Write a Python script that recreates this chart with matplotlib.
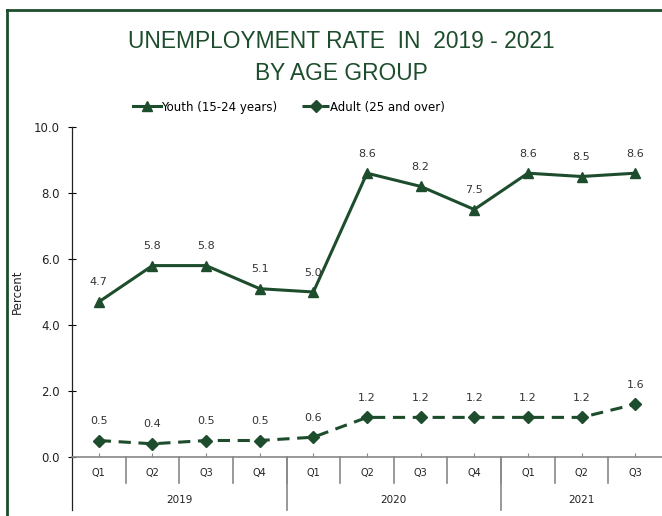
import matplotlib
matplotlib.use('Agg')
import matplotlib.pyplot as plt
from matplotlib.lines import Line2D

# Data
quarters = ['Q1', 'Q2', 'Q3', 'Q4', 'Q1', 'Q2', 'Q3', 'Q4', 'Q1', 'Q2', 'Q3']
years = ['2019', '2020', '2021']
year_quarters = [4, 4, 3]
youth = [4.7, 5.8, 5.8, 5.1, 5.0, 8.6, 8.2, 7.5, 8.6, 8.5, 8.6]
adult = [0.5, 0.4, 0.5, 0.5, 0.6, 1.2, 1.2, 1.2, 1.2, 1.2, 1.6]

green = '#1d4d2c'
small = ['DejaVu Sans']
plt.rcParams['font.family'] = ['Liberation Sans', 'DejaVu Sans']

fig = plt.figure(figsize=(6.62, 5.16), dpi=100)
ax = fig.add_axes([72 / 662, 59 / 516, 590 / 662, 330 / 516])

x = list(range(len(quarters)))
ax.plot(x, youth, color=green, lw=2.2, marker='^', ms=7, label='Youth (15-24 years)')
ax.plot(x, adult, color=green, lw=2.2, ls=(0, (4, 2.5)), marker='D', ms=6, label='Adult (25 and over)')

for xi, v in zip(x, youth):
    ax.annotate(f'{v:.1f}', (xi, v), xytext=(0, 14), textcoords='offset points',
                ha='center', va='center', fontsize=8, family=small, color='#333333')
for xi, v in zip(x, adult):
    ax.annotate(f'{v:.1f}', (xi, v), xytext=(0, 14), textcoords='offset points',
                ha='center', va='center', fontsize=8, family=small, color='#333333')

ax.set_xlim(-0.5, len(quarters) - 0.5)
ax.set_ylim(0, 10)
ax.set_yticks([0, 2, 4, 6, 8, 10])
ax.set_yticklabels([f'{t:.1f}' for t in [0, 2, 4, 6, 8, 10]], fontsize=8.5, family=small, color='#222222')
ax.tick_params(axis='y', direction='inout', length=6, width=0.8, pad=6)
ax.set_xticks(x)
ax.set_xticklabels([])
ax.tick_params(axis='x', direction='in', length=3, width=0.8, color='#888888')

for s in ['top', 'right', 'left']:
    ax.spines[s].set_visible(False)
ax.spines['bottom'].set_color('#888888')
ax.spines['bottom'].set_linewidth(1.2)

# y-axis line extended down through the category rows
ax.plot([-0.5, -0.5], [-1.6, 10], color='#222222', lw=0.9, clip_on=False)

# category labels and separators
for xi, q in zip(x, quarters):
    ax.text(xi, -0.48, q, ha='center', va='center', fontsize=7, family=small, color='#222222')
for b in range(1, len(quarters)):
    ax.plot([b - 0.5, b - 0.5], [0, -0.79], color='#888888', lw=1.2, clip_on=False)
start = 0
for yr, n in zip(years, year_quarters):
    ax.text(start + (n - 1) / 2, -1.3, yr, ha='center', va='center', fontsize=7.5, family=small,
            color='#222222')
    if start > 0:
        ax.plot([start - 0.5, start - 0.5], [0, -1.6], color='#888888', lw=1.2, clip_on=False)
    start += n

ax.set_ylabel('Percent', fontsize=8.5, family=small, color='#222222')
ax.yaxis.set_label_coords(-0.082, 0.5)

fig.text(341 / 662, 1 - 41 / 516, 'UNEMPLOYMENT RATE  IN  2019 - 2021', ha='center', va='center',
         fontsize=16.4, color=green)
fig.text(341 / 662, 1 - 73 / 516, 'BY AGE GROUP', ha='center', va='center', fontsize=16.4, color=green)

fig.legend(loc='center', bbox_to_anchor=(289 / 662, 1 - 107 / 516), ncol=2, frameon=False,
           prop={'family': small, 'size': 8.5}, handlelength=2.3, handletextpad=0.05,
           columnspacing=2.1)

# frame (top and left edges)
fig.add_artist(Line2D([7 / 662, 7 / 662], [0, 1 - 10 / 516], transform=fig.transFigure, color=green, lw=2))
fig.add_artist(Line2D([7 / 662, 1], [1 - 10 / 516, 1 - 10 / 516], transform=fig.transFigure, color=green, lw=2))

fig.savefig('out.png', dpi=100)
